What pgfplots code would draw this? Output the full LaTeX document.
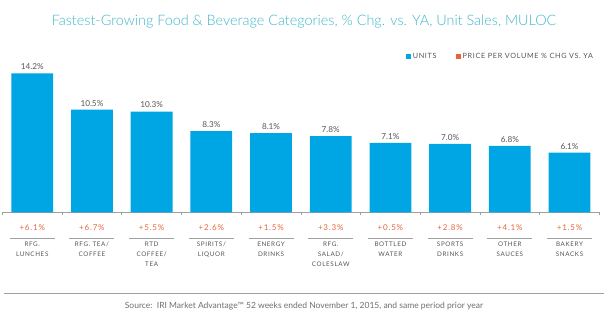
\documentclass[border=0pt]{standalone}
\usepackage{pgfplots}
\pgfplotsset{compat=1.18}
\usepackage{pgfplotstable}
\usepackage{fontspec}
\setmainfont{Lato}
\newfontfamily\spaced[LetterSpace=10]{Lato}
\newfontfamily\titlefont{Lato Light}
\definecolor{barblue}{RGB}{0,166,228}
\definecolor{pxorange}{RGB}{232,98,58}
\definecolor{titleteal}{RGB}{62,182,202}
\definecolor{labgrey}{RGB}{85,85,85}
\definecolor{srcgrey}{RGB}{110,110,110}
\definecolor{rulegrey}{RGB}{160,160,160}

\pgfplotstableread{
x units price
0 14.2 +6.1
1 10.5 +6.7
2 10.3 +5.5
3 8.3 +2.6
4 8.1 +1.5
5 7.8 +3.3
6 7.1 +0.5
7 7.0 +2.8
8 6.8 +4.1
9 6.1 +1.5
}\datatable

\begin{document}
\begin{tikzpicture}[x=1pt,y=1pt]
\path[use as bounding box] (0,0) rectangle (610,324);
\node[font=\titlefont\fontsize{14.4}{16}\selectfont, text=titleteal] at (304,302) {Fastest-Growing Food \& Beverage Categories, \% Chg. vs. YA, Unit Sales, MULOC};
\draw[rulegrey, line width=0.6pt] (4,31) -- (604,31);
\node[font=\fontsize{8.5}{10}\selectfont, text=srcgrey] at (304,18) {Source:\ \ IRI Market Advantage™ 52 weeks ended November 1, 2015, and same period prior year};
\begin{axis}[
  at={(4,114)}, anchor=south west, scale only axis,
  width=597pt, height=139pt,
  ymin=0, ymax=14.2, xmin=-0.5, xmax=9.5,
  clip=false,
  axis x line*=bottom, hide y axis,
  axis line style={rulegrey, line width=0.6pt},
  xtick={0,...,9},
  xticklabels={RFG.\\LUNCHES, RFG. TEA/\\COFFEE, RTD\\COFFEE/\\TEA, SPIRITS/\\LIQUOR, ENERGY\\DRINKS, RFG.\\SALAD/\\COLESLAW, BOTTLED\\WATER, SPORTS\\DRINKS, OTHER\\SAUCES, BAKERY\\SNACKS},
  major tick length=0pt,
  minor xtick={-0.5,0.5,...,9.5},
  minor tick length=3pt,
  tick align=outside,
  tick style={rulegrey, line width=0.6pt},
  xticklabel style={align=center, font=\spaced\fontsize{6.3}{9.8}\selectfont, text=labgrey, yshift=-26pt},
  legend style={draw=none, fill=none, legend columns=2, at={(0.998,1.122)}, anchor=east,
    font=\spaced\fontsize{7.2}{8}\selectfont, text=labgrey,
    /tikz/every even column/.append style={column sep=17pt}},
  legend image code/.code={\fill[#1] (0pt,-2.5pt) rectangle (5pt,2.5pt);},
]
\addlegendimage{fill=barblue, draw=none}
\addlegendentry{UNITS}
\addlegendimage{fill=pxorange, draw=none}
\addlegendentry{PRICE PER VOLUME \% CHG VS. YA}
\addplot[ybar, bar width=0.7, fill=barblue, draw=none, forget plot,
  point meta=explicit symbolic,
  nodes near coords={\pgfplotspointmeta\%},
  every node near coord/.append style={font=\fontsize{8.2}{9}\selectfont, text=labgrey}]
  table[x=x, y=units, meta=units]{\datatable};
\addplot[draw=none, mark=none, forget plot,
  point meta=explicit symbolic,
  nodes near coords={\pgfplotspointmeta\%},
  every node near coord/.append style={anchor=center, font=\spaced\fontsize{8}{9}\selectfont, text=pxorange}]
  table[x=x, y expr=-1.53, meta=price]{\datatable};
\pgfplotsinvokeforeach{0,...,9}{
  \draw[rulegrey, line width=0.7pt] (axis cs:#1-0.377,-2.66) -- (axis cs:#1+0.377,-2.66);
}
\end{axis}
\end{tikzpicture}
\end{document}
